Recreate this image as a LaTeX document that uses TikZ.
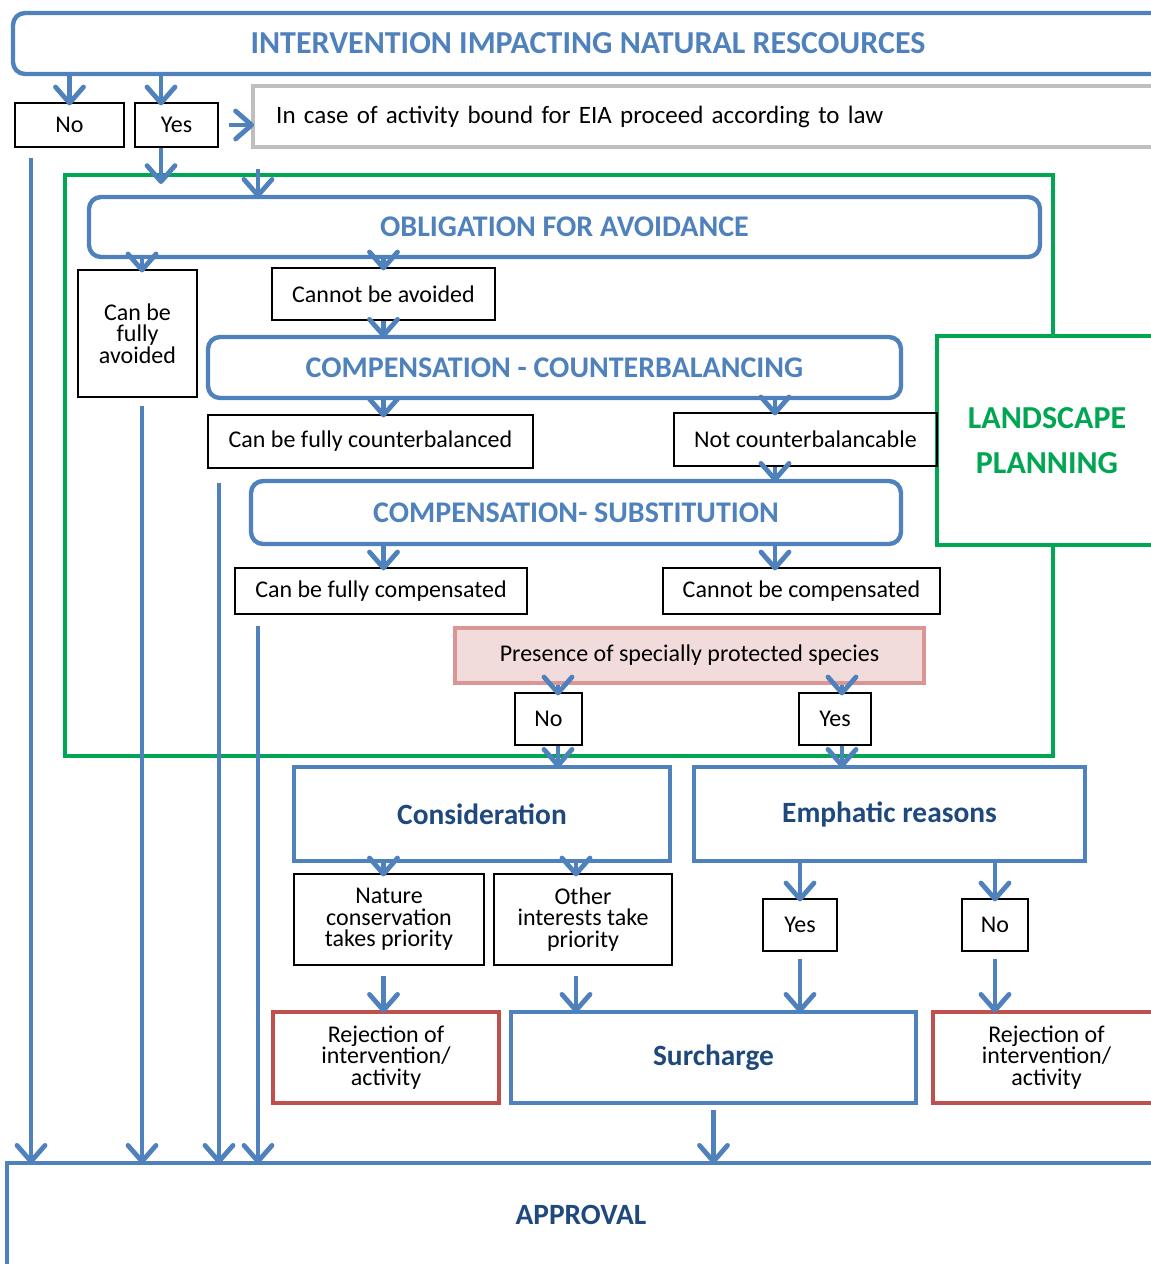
\documentclass[tikz,border=0pt]{standalone}
\usepackage{fontspec}
\setmainfont{Carlito}
\usetikzlibrary{arrows.meta,calc}
\definecolor{lineblue}{RGB}{79,129,189}
\definecolor{darkblue}{RGB}{31,73,125}
\definecolor{plangreen}{RGB}{0,166,81}
\definecolor{boxgrey}{RGB}{191,191,191}
\definecolor{rejred}{RGB}{192,80,77}
\definecolor{pinkfill}{RGB}{242,220,219}
\definecolor{pinkline}{RGB}{217,150,148}

\begin{document}
\begin{tikzpicture}[x=0.5pt,y=-0.5pt,
  arr/.style={draw=lineblue, line width=2.4pt, shorten >=-1.5pt, -{Straight Barb[length=8pt,width=14pt,round]}},
  plain/.style={draw=black, line width=0.6pt, align=center, inner sep=1pt, font=\fontsize{12}{10.8}\selectfont},
  stage/.style={draw=lineblue, line width=2.2pt, rounded corners=6pt, text=lineblue, font=\fontsize{15}{17}\selectfont\bfseries},
  decision/.style={draw=lineblue, line width=2.2pt, text=darkblue, font=\fontsize{14.7}{17}\selectfont\bfseries},
  reject/.style={draw=rejred, line width=2.2pt, align=center, inner sep=1pt, font=\fontsize{12}{10.8}\selectfont}]
\clip (0,0) rectangle (1151,1264);

%columns of the arrows
\coordinate (c1) at (31,0);
\coordinate (c2) at (142,0);
\coordinate (cy) at (161,0);
\coordinate (c3) at (219,0);
\coordinate (c4) at (258,0);
\coordinate (cN) at (558,0);
\coordinate (cO) at (576,0);
\coordinate (cB) at (775,0);
\coordinate (cY) at (842,0);

%landscape planning frame
\node[draw=plangreen, line width=2pt, minimum width=494pt, minimum height=290.5pt] (lpframe) at (559,465.5) {};
\node[draw=plangreen, line width=2pt, fill=white, align=center, text=plangreen, minimum width=110pt, minimum height=104.5pt, font=\fontsize{16}{22.5}\selectfont\bfseries] (lplan) at (1047,440.5) {LANDSCAPE\\PLANNING};

%top
\node[stage, minimum width=575pt, minimum height=30.5pt, font=\fontsize{16}{18}\selectfont\bfseries] (top) at (588,43.5) {INTERVENTION IMPACTING NATURAL RESCOURCES};
\node[plain, minimum width=54.5pt, minimum height=22pt] (noL) at (69.5,125) {No};
\node[plain, minimum width=41.5pt, minimum height=22pt] (yesL) at (176.5,125) {Yes};
\node[draw=boxgrey, line width=2.2pt, anchor=west, text width=439pt, inner xsep=11.5pt, minimum height=30.5pt, align=left, font=\fontsize{12.5}{14}\selectfont] (eia) at (251,116.5) {In case of activity bound for EIA proceed according to law};

%avoidance and compensation
\node[stage, minimum width=475.5pt, minimum height=30pt] (oblig) at (564.5,227) {OBLIGATION FOR AVOIDANCE};
\node[plain, minimum width=59.5pt, minimum height=63.5pt] (avoidF) at (137.5,333.5) {Can be\\fully\\avoided};
\node[plain, minimum width=111.5pt, minimum height=26pt] (notAv) at (383.5,294) {Cannot be avoided};
\node[stage, minimum width=346.5pt, minimum height=30.5pt] (ccb) at (554.5,367.5) {COMPENSATION - COUNTERBALANCING};
\node[plain, minimum width=162.5pt, minimum height=26.5pt] (fullCb) at (370.5,441.5) {Can be fully counterbalanced};
\node[plain, minimum width=131.5pt, minimum height=26.5pt] (notCb) at (805.5,439.5) {Not counterbalancable};
\node[stage, minimum width=325pt, minimum height=31.5pt] (subst) at (576,512.5) {COMPENSATION- SUBSTITUTION};
\node[plain, minimum width=146pt, minimum height=23pt] (fullCp) at (381,591) {Can be fully compensated};
\node[plain, minimum width=138.5pt, minimum height=23pt] (notCp) at (801.5,591) {Cannot be compensated};
\node[plain, draw=pinkline, line width=2pt, fill=pinkfill, minimum width=234.5pt, minimum height=27.5pt] (species) at (689.5,655.5) {Presence of specially protected species};
\node[plain, minimum width=33.5pt, minimum height=26pt] (noS) at (548.5,719) {No};
\node[plain, minimum width=36pt, minimum height=26pt] (yesS) at (835,719) {Yes};

%decisions
\node[decision, minimum width=188pt, minimum height=47pt] (consid) at (482,814) {Consideration};
\node[decision, minimum width=195.5pt, minimum height=47pt] (emph) at (889.5,814) {Emphatic reasons};
\node[plain, minimum width=95pt, minimum height=45.5pt] (natPr) at (389,919.5) {Nature\\conservation\\takes priority};
\node[plain, minimum width=89pt, minimum height=45.5pt] (othPr) at (583,919.5) {Other\\interests take\\priority};
\node[plain, minimum width=37pt, minimum height=26pt] (yesE) at (800,925) {Yes};
\node[plain, minimum width=33pt, minimum height=26pt] (noE) at (995,925) {No};
\node[reject, minimum width=113pt, minimum height=45.5pt] (rejL) at (386,1057.5) {Rejection of\\intervention/\\activity};
\node[decision, minimum width=202.5pt, minimum height=45.5pt] (surch) at (713.5,1057.5) {Surcharge};
\node[reject, minimum width=113.5pt, minimum height=45.5pt] (rejR) at (1046.5,1057.5) {Rejection of\\intervention/\\activity};
\node[decision, minimum width=574pt, minimum height=52pt] (approval) at (581,1215) {APPROVAL};

%arrows at the top
\draw[arr] (top.south -| noL) -- (noL.north);
\draw[arr] (top.south -| cy) -- (yesL.north -| cy);
\draw[arr, shorten <=5pt] (yesL.east) -- (eia.west |- yesL);
\draw[arr] (yesL.south -| cy) -- ($(lpframe.north -| cy)+(0,8)$);
\draw[arr] ($(lpframe.north -| c4)+(0,-4)$) -- (oblig.north -| c4);

%arrows of avoidance and compensation
\draw[arr] (oblig.south -| c2) -- (avoidF.north -| c2);
\draw[arr] (oblig.south -| notAv) -- (notAv.north);
\draw[arr] (notAv.south) -- (ccb.north -| notAv);
\draw[arr] (ccb.south -| notAv) -- (fullCb.north -| notAv);
\draw[arr] (ccb.south -| cB) -- (notCb.north -| cB);
\draw[arr] (notCb.south -| cB) -- (subst.north -| cB);
\draw[arr] (subst.south -| notAv) -- (fullCp.north -| notAv);
\draw[arr] (subst.south -| cB) -- (notCp.north -| cB);
\draw[arr] (species.south -| cN) -- (noS.north -| cN);
\draw[arr] (species.south -| cY) -- (yesS.north -| cY);
\draw[arr] (noS.south -| cN) -- (consid.north -| cN);
\draw[arr] (yesS.south -| cY) -- (emph.north -| cY);

%arrows of the decisions
\draw[arr] (consid.south -| notAv) -- (natPr.north -| notAv);
\draw[arr] (consid.south -| cO) -- (othPr.north -| cO);
\draw[arr] (emph.south -| yesE) -- (yesE.north);
\draw[arr] (emph.south -| noE) -- (noE.north);
\draw[arr, shorten <=5pt] (natPr.south -| notAv) -- (rejL.north -| notAv);
\draw[arr, shorten <=5pt] (othPr.south -| cO) -- (surch.north -| cO);
\draw[arr, shorten <=3.5pt] (yesE.south) -- (surch.north -| yesE);
\draw[arr, shorten <=3.5pt] (noE.south) -- (rejR.north -| noE);
\draw[arr, shorten <=2.5pt] (surch.south) -- (approval.north -| surch);

%long arrows to the approval
\draw[arr, shorten <=5pt] (noL.south -| c1) -- (approval.north -| c1);
\draw[arr, shorten <=4pt] (avoidF.south -| c2) -- (approval.north -| c2);
\draw[arr, shorten <=7pt] (fullCb.south -| c3) -- (approval.north -| c3);
\draw[arr, shorten <=5.5pt] (fullCp.south -| c4) -- (approval.north -| c4);
\end{tikzpicture}
\end{document}
